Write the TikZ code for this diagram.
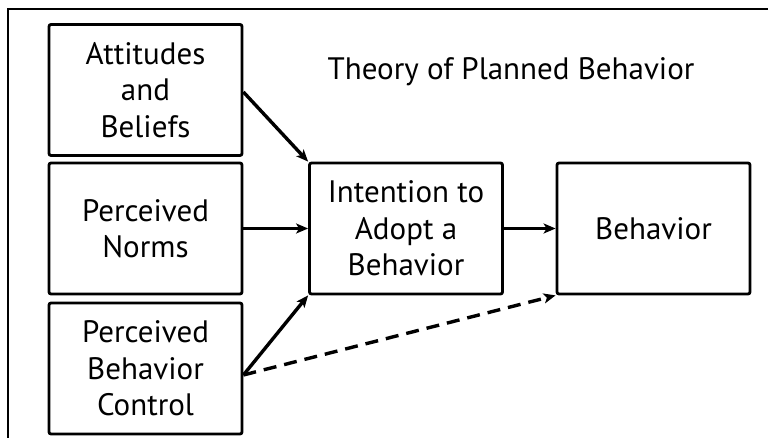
\documentclass[tikz,border=0pt]{standalone}
\usepackage{fontspec}
\setmainfont{PT Sans}
\usetikzlibrary{arrows.meta}
\tikzset{
  factor/.style={draw, line width=2.8pt, rounded corners=2pt, minimum width=193pt,
    minimum height=131pt, align=center, inner sep=0pt,
    font=\fontsize{31}{36.5}\selectfont},
  link/.style={line width=3.4pt, -{Stealth[length=12pt,width=10pt,inset=3pt]}}
}
\begin{document}
\begin{tikzpicture}[x=1pt,y=-1pt]
			\useasboundingbox (0,0) rectangle (768,438);
			\draw[line width=2pt] (8,438) -- (8,9) -- (768,9);
			\node[font=\fontsize{31}{36}\selectfont] (title) at (511,72) {Theory of Planned Behavior};
			\node[factor] (att) at (145.5,90) {Attitudes\\and\\Beliefs};
			\node[factor] (norm) at (145.5,228.5) {Perceived\\Norms};
			\node[factor] (pbc) at (145.5,368.5) {Perceived\\Behavior\\Control};
			\node[factor] (int) at (406,228.5) {Intention to\\Adopt a\\Behavior};
			\node[factor] (beh) at (653.5,228.5) {Behavior};
			\coordinate (attout) at (att.east |- 0,92);
			\coordinate (pbcout) at (pbc.east |- 0,375);
			\draw[link] (attout) -- (int.north west);
			\draw[link] (norm) -- (int);
			\draw[link] (pbcout) -- (int.south west);
			\draw[link] (int) -- (beh);
			\draw[link, dash pattern=on 13pt off 8pt] (pbcout) -- (beh.south west);
		\end{tikzpicture}
\end{document}
